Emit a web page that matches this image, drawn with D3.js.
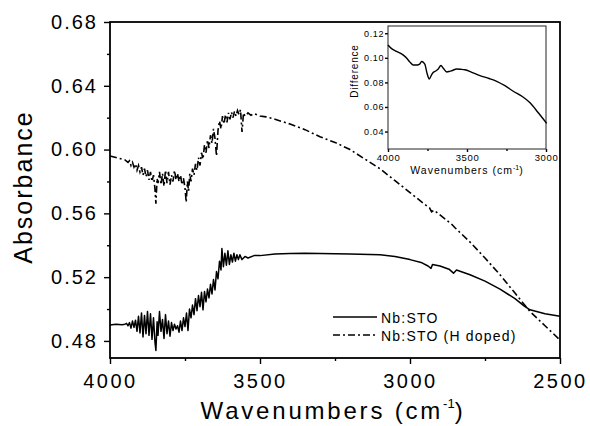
<!DOCTYPE html>
<html>
<head>
<meta charset="utf-8">
<script src="https://cdn.jsdelivr.net/npm/d3@7"></script>
<style>
  body { margin: 0; background: #fff; }
  svg { display: block; font-family: "Liberation Sans", Arial, sans-serif; }
</style>
</head>
<body>
<svg id="chart" width="590" height="426"></svg>
<script>
// Nb:STO (as grown) absorbance
const pristineWn = [4000, 3980, 3960, 3950, 3945, 3940, 3935, 3930, 3925, 3920, 3915, 3910, 3905, 3900,
  3895, 3890, 3885, 3880, 3875, 3870, 3865, 3860, 3855, 3850, 3847, 3843, 3840, 3835, 3830, 3825,
  3820, 3815, 3810, 3805, 3800, 3795, 3790, 3785, 3780, 3775, 3770, 3765, 3760, 3755, 3750, 3745,
  3740, 3735, 3730, 3725, 3720, 3715, 3710, 3705, 3700, 3695, 3690, 3685, 3680, 3675, 3670, 3665,
  3660, 3655, 3650, 3645, 3640, 3635, 3630, 3627, 3622, 3617, 3612, 3607, 3602, 3597, 3592, 3587,
  3582, 3577, 3572, 3567, 3560, 3550, 3540, 3520, 3500, 3450, 3400, 3350, 3300, 3200, 3100, 3050,
  3000, 2960, 2940, 2930, 2925, 2900, 2870, 2855, 2845, 2800, 2750, 2700, 2650, 2620, 2600, 2550, 2500];
const pristineAbs = [0.490, 0.4905, 0.4902, 0.4905, 0.491, 0.4895, 0.4915, 0.488, 0.4925, 0.4885, 0.493, 0.486, 0.4955, 0.485,
  0.4975, 0.4825, 0.496, 0.4845, 0.4985, 0.4835, 0.497, 0.481, 0.4945, 0.479, 0.474, 0.492, 0.4835, 0.4985, 0.486, 0.4935,
  0.4815, 0.4965, 0.4845, 0.4925, 0.483, 0.4915, 0.4865, 0.4905, 0.4875, 0.4895, 0.4855, 0.4925, 0.4865, 0.4945, 0.489, 0.4975,
  0.4865, 0.500, 0.4945, 0.5025, 0.4965, 0.5065, 0.499, 0.5085, 0.5015, 0.5105, 0.4995, 0.511, 0.5045, 0.5125, 0.507, 0.5155,
  0.5095, 0.5185, 0.512, 0.5235, 0.519, 0.530, 0.5245, 0.538, 0.5265, 0.535, 0.5275, 0.5365, 0.528, 0.534, 0.5295, 0.535,
  0.530, 0.534, 0.531, 0.534, 0.531, 0.533, 0.532, 0.5335, 0.5335, 0.5345, 0.5348, 0.535, 0.5348, 0.5345, 0.534, 0.533,
  0.531, 0.529, 0.527, 0.5255, 0.528, 0.527, 0.525, 0.5225, 0.5245, 0.5215, 0.5175, 0.5125, 0.5065, 0.502, 0.4995, 0.497, 0.4955];

// Nb:STO (H doped) absorbance
const dopedWn = [4000, 3980, 3960, 3950, 3940, 3935, 3930, 3925, 3920, 3915, 3910, 3905, 3900, 3895,
  3890, 3885, 3880, 3875, 3870, 3865, 3860, 3855, 3850, 3847, 3843, 3840, 3835, 3830, 3825, 3820,
  3815, 3810, 3805, 3800, 3795, 3790, 3785, 3780, 3775, 3770, 3765, 3760, 3755, 3750, 3746, 3742,
  3738, 3734, 3730, 3725, 3720, 3715, 3710, 3705, 3700, 3695, 3690, 3685, 3680, 3675, 3670, 3665,
  3660, 3655, 3650, 3645, 3640, 3635, 3630, 3625, 3620, 3615, 3610, 3605, 3600, 3595, 3590, 3585,
  3580, 3575, 3570, 3565, 3560, 3555, 3550, 3540, 3530, 3520, 3500, 3480, 3450, 3400, 3350, 3300,
  3250, 3200, 3150, 3100, 3050, 3000, 2950, 2935, 2928, 2920, 2900, 2860, 2850, 2800, 2750, 2700,
  2650, 2620, 2600, 2550, 2500];
const dopedAbs = [0.596, 0.595, 0.594, 0.5935, 0.592, 0.593, 0.590, 0.592, 0.589, 0.591, 0.587, 0.590, 0.586, 0.589,
  0.584, 0.588, 0.583, 0.587, 0.581, 0.586, 0.580, 0.584, 0.575, 0.566, 0.582, 0.579, 0.586, 0.578, 0.585, 0.577,
  0.587, 0.579, 0.586, 0.578, 0.584, 0.580, 0.587, 0.581, 0.585, 0.580, 0.584, 0.578, 0.582, 0.576, 0.567, 0.580,
  0.574, 0.585, 0.580, 0.588, 0.584, 0.591, 0.587, 0.595, 0.590, 0.598, 0.594, 0.603, 0.598, 0.606, 0.601, 0.609,
  0.604, 0.613, 0.607, 0.596, 0.612, 0.618, 0.613, 0.621, 0.616, 0.622, 0.617, 0.623, 0.619, 0.6235, 0.620, 0.624,
  0.621, 0.6245, 0.622, 0.625, 0.611, 0.623, 0.621, 0.623, 0.6215, 0.6225, 0.621, 0.6205, 0.619, 0.616, 0.6125, 0.608,
  0.6045, 0.600, 0.594, 0.588, 0.5805, 0.573, 0.5655, 0.5635, 0.561, 0.562, 0.559, 0.553, 0.551, 0.542, 0.532, 0.5215,
  0.510, 0.503, 0.4985, 0.4895, 0.4806];

// inset: difference spectrum
const diffWn = [4000, 3979, 3950, 3905, 3880, 3861, 3840, 3815, 3800, 3787, 3775, 3766, 3752, 3739, 3725, 3713,
  3695, 3682, 3665, 3650, 3628, 3610, 3597, 3565, 3540, 3513, 3470, 3418, 3360, 3312, 3260, 3207, 3150, 3101, 3050, 2996];
const diffVal = [0.1105, 0.1077, 0.1055, 0.1024, 0.0995, 0.0965, 0.0942, 0.0942, 0.0948, 0.0970, 0.0962, 0.0945, 0.0870, 0.0828, 0.0860, 0.0882,
  0.0895, 0.0909, 0.0938, 0.0915, 0.0885, 0.0890, 0.0895, 0.0909, 0.0907, 0.0903, 0.0882, 0.0855, 0.0832, 0.0809, 0.0773, 0.0728, 0.0685, 0.0634, 0.0555, 0.0467];

const yTicks = [0.48, 0.52, 0.56, 0.60, 0.64, 0.68];
const yMinor = [0.50, 0.54, 0.58, 0.62, 0.66];
const xTicks = [4000, 3500, 3000, 2500];
const xMinor = [3750, 3250, 2750];
const insetYTicks = [0.04, 0.06, 0.08, 0.10, 0.12];
const insetXTicks = [4000, 3500, 3000];
const insetXMinor = [3750, 3250];
const legendLabels = ["Nb:STO", "Nb:STO (H doped)"];

const svg = d3.select("#chart");
const DASHDOT = "7,3,2,3";

const x = d3.scaleLinear().domain([4000, 2500]).range([110, 560]);
const y = d3.scaleLinear().domain([0.4693, 0.68]).range([358, 22]);

const styleAxis = (sel, size, ls) => {
  sel.select(".domain").remove();
  sel.selectAll("line").attr("stroke", "#000").attr("stroke-width", 1.4);
  sel.selectAll("text").attr("fill", "#000")
    .style("font-size", size + "px").style("letter-spacing", ls + "px")
    .style("font-family", "'Liberation Sans', Arial, sans-serif");
};

// main axes
svg.append("g").attr("transform", "translate(110,0)")
  .call(d3.axisLeft(y).tickValues(yTicks).tickFormat(d3.format(".2f")).tickSize(6).tickPadding(6))
  .call(g => styleAxis(g, 20, 2));
svg.append("g").attr("transform", "translate(110,0)")
  .call(d3.axisLeft(y).tickValues(yMinor).tickFormat("").tickSize(3))
  .call(g => styleAxis(g, 20, 2));
svg.append("g").attr("transform", "translate(0,358)")
  .call(d3.axisBottom(x).tickValues(xTicks).tickFormat(d3.format("d")).tickSize(6).tickPadding(10))
  .call(g => styleAxis(g, 20, 2.5));
svg.append("g").attr("transform", "translate(0,358)")
  .call(d3.axisBottom(x).tickValues(xMinor).tickFormat("").tickSize(3))
  .call(g => styleAxis(g, 20, 2));

svg.append("rect")
  .attr("x", x(4000)).attr("y", y(0.68))
  .attr("width", x(2500) - x(4000)).attr("height", y.range()[0] - y(0.68))
  .attr("fill", "none").attr("stroke", "#000").attr("stroke-width", 1.8);

const line = d3.line().x(d => x(d[0])).y(d => y(d[1]));
svg.append("path")
  .datum(d3.zip(pristineWn, pristineAbs))
  .attr("d", line).attr("fill", "none").attr("stroke", "#000").attr("stroke-width", 1.5)
  .attr("stroke-linejoin", "round");
svg.append("path")
  .datum(d3.zip(dopedWn, dopedAbs))
  .attr("d", line).attr("fill", "none").attr("stroke", "#000").attr("stroke-width", 1.6)
  .attr("stroke-dasharray", DASHDOT);

// axis titles
svg.append("text")
  .attr("transform", "translate(32,187) rotate(-90)")
  .attr("text-anchor", "middle")
  .style("font-size", "25px").style("letter-spacing", "2px")
  .text("Absorbance");
const xt = svg.append("text")
  .attr("x", 333).attr("y", 419).attr("text-anchor", "middle")
  .style("font-size", "24px").style("letter-spacing", "2.8px");
xt.append("tspan").text("Wavenumbers (cm");
xt.append("tspan").attr("dy", -11).style("font-size", "13px").style("letter-spacing", "0px").text("-1");
xt.append("tspan").attr("dy", 11).text(")");

// legend
const legend = svg.append("g");
legendLabels.forEach((lab, i) => {
  const ly = 317 + i * 18;
  legend.append("line")
    .attr("x1", 333).attr("x2", 377).attr("y1", ly).attr("y2", ly)
    .attr("stroke", "#000").attr("stroke-width", 1.5)
    .attr("stroke-dasharray", i === 0 ? null : DASHDOT);
  legend.append("text")
    .attr("x", 381).attr("y", ly + 5.5)
    .style("font-size", "14px").style("letter-spacing", "1.2px")
    .text(lab);
});

// inset
const ix = d3.scaleLinear().domain([4000, 3000]).range([388, 546]);
const iy = d3.scaleLinear().domain([0.0258, 0.1259]).range([149, 26]);

svg.append("g").attr("transform", "translate(388,0)")
  .call(d3.axisLeft(iy).tickValues(insetYTicks).tickFormat(d3.format(".2f")).tickSize(3).tickPadding(1))
  .call(g => styleAxis(g, 9, 0.6));
svg.append("g").attr("transform", "translate(0,149)")
  .call(d3.axisBottom(ix).tickValues(insetXTicks).tickFormat(d3.format("d")).tickSize(3).tickPadding(2.5))
  .call(g => styleAxis(g, 9.5, 0.6));
svg.append("g").attr("transform", "translate(0,149)")
  .call(d3.axisBottom(ix).tickValues(insetXMinor).tickFormat("").tickSize(2))
  .call(g => styleAxis(g, 9, 0.6));

svg.append("rect")
  .attr("x", ix(4000)).attr("y", iy(0.1259))
  .attr("width", ix(3000) - ix(4000)).attr("height", iy(0.0258) - iy(0.1259))
  .attr("fill", "none").attr("stroke", "#222").attr("stroke-width", 1);

const iline = d3.line().curve(d3.curveMonotoneX).x(d => ix(d[0])).y(d => iy(d[1]));
svg.append("path")
  .datum(d3.zip(diffWn, diffVal))
  .attr("d", iline).attr("fill", "none").attr("stroke", "#000").attr("stroke-width", 1.4);

svg.append("text")
  .attr("transform", "translate(358,71) rotate(-90)")
  .attr("text-anchor", "middle")
  .style("font-size", "10px").style("letter-spacing", "0.8px")
  .text("Difference");
const ixt = svg.append("text")
  .attr("x", 467).attr("y", 174).attr("text-anchor", "middle")
  .style("font-size", "10.5px").style("letter-spacing", "1px");
ixt.append("tspan").text("Wavenumbers (cm");
ixt.append("tspan").attr("dy", -4).style("font-size", "7px").style("letter-spacing", "0px").text("-1");
ixt.append("tspan").attr("dy", 4).text(")");
</script>
</body>
</html>
